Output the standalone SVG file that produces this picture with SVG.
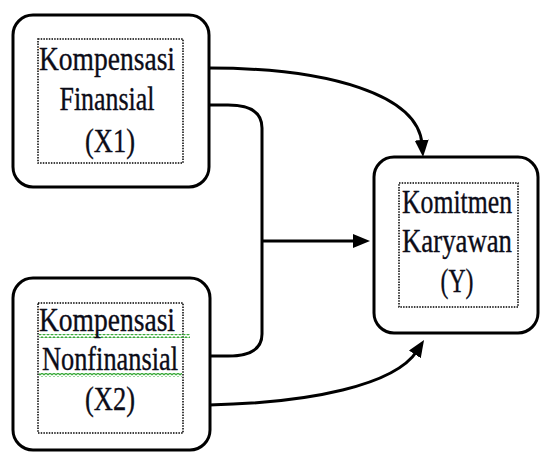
<svg xmlns="http://www.w3.org/2000/svg" width="542" height="455" viewBox="0 0 542 455">
  <style>
    .box { fill: #fff; stroke: #000; stroke-width: 3; }
    .inner { fill: none; stroke: #000; stroke-width: 1.5; stroke-dasharray: 1.5 1.2; }
    .lbl { font-family: "Liberation Serif", "Times New Roman", serif; font-size: 33px; fill: #0c0c18; stroke: #0c0c18; stroke-width: 0.35; text-anchor: middle; }
    .conn { fill: none; stroke: #000; stroke-width: 3; }
  </style>
  <defs>
    <marker id="arrow" markerUnits="userSpaceOnUse" markerWidth="19" markerHeight="15" refX="4" refY="7" orient="auto">
      <path d="M0,0 L17,7 L0,14 z" fill="#000"/>
    </marker>
    <pattern id="wave" patternUnits="userSpaceOnUse" width="4" height="4">
      <path d="M0,3 L2,1 L4,3" fill="none" stroke="#3cab3c" stroke-width="1.3"/>
    </pattern>
  </defs>
  <rect width="542" height="455" fill="#fff"/>

  <g id="connectors">
    <path class="conn" d="M209,68 C330,68 418,95 422,144" marker-end="url(#arrow)"/>
    <path class="conn" d="M209,105 L228,105 Q262,105 262,128 L262,334 Q262,356 228,356 L209,356"/>
    <path class="conn" d="M262,241 L357,241" marker-end="url(#arrow)"/>
    <path class="conn" d="M209,405 C310,403 395,385 417,351" marker-end="url(#arrow)"/>
  </g>

  <g id="node-x1">
    <rect class="box" x="13" y="15" width="196" height="172" rx="20"/>
    <rect class="inner" x="38" y="39" width="145" height="124"/>
    <text class="lbl" x="107" y="70" textLength="136" lengthAdjust="spacingAndGlyphs">Kompensasi</text>
    <text class="lbl" x="107" y="110" textLength="95" lengthAdjust="spacingAndGlyphs">Finansial</text>
    <text class="lbl" x="110" y="152" textLength="50" lengthAdjust="spacingAndGlyphs">(X1)</text>
  </g>

  <g id="node-x2">
    <rect class="box" x="13" y="278" width="197" height="172" rx="20"/>
    <rect class="inner" x="38" y="303" width="145" height="130"/>
    <rect x="39" y="334" width="151" height="4" fill="url(#wave)"/>
    <rect x="39" y="373" width="143" height="4" fill="url(#wave)"/>
    <text class="lbl" x="107" y="331" textLength="136" lengthAdjust="spacingAndGlyphs">Kompensasi</text>
    <text class="lbl" x="110" y="370" textLength="136" lengthAdjust="spacingAndGlyphs">Nonfinansial</text>
    <text class="lbl" x="110" y="410" textLength="50" lengthAdjust="spacingAndGlyphs">(X2)</text>
  </g>

  <g id="node-y">
    <rect class="box" x="374" y="157" width="164" height="176" rx="20"/>
    <rect class="inner" x="399" y="183" width="119" height="124"/>
    <text class="lbl" x="457" y="213" textLength="110" lengthAdjust="spacingAndGlyphs">Komitmen</text>
    <text class="lbl" x="457" y="252" textLength="110" lengthAdjust="spacingAndGlyphs">Karyawan</text>
    <text class="lbl" x="457" y="292" textLength="33" lengthAdjust="spacingAndGlyphs">(Y)</text>
  </g>
</svg>
